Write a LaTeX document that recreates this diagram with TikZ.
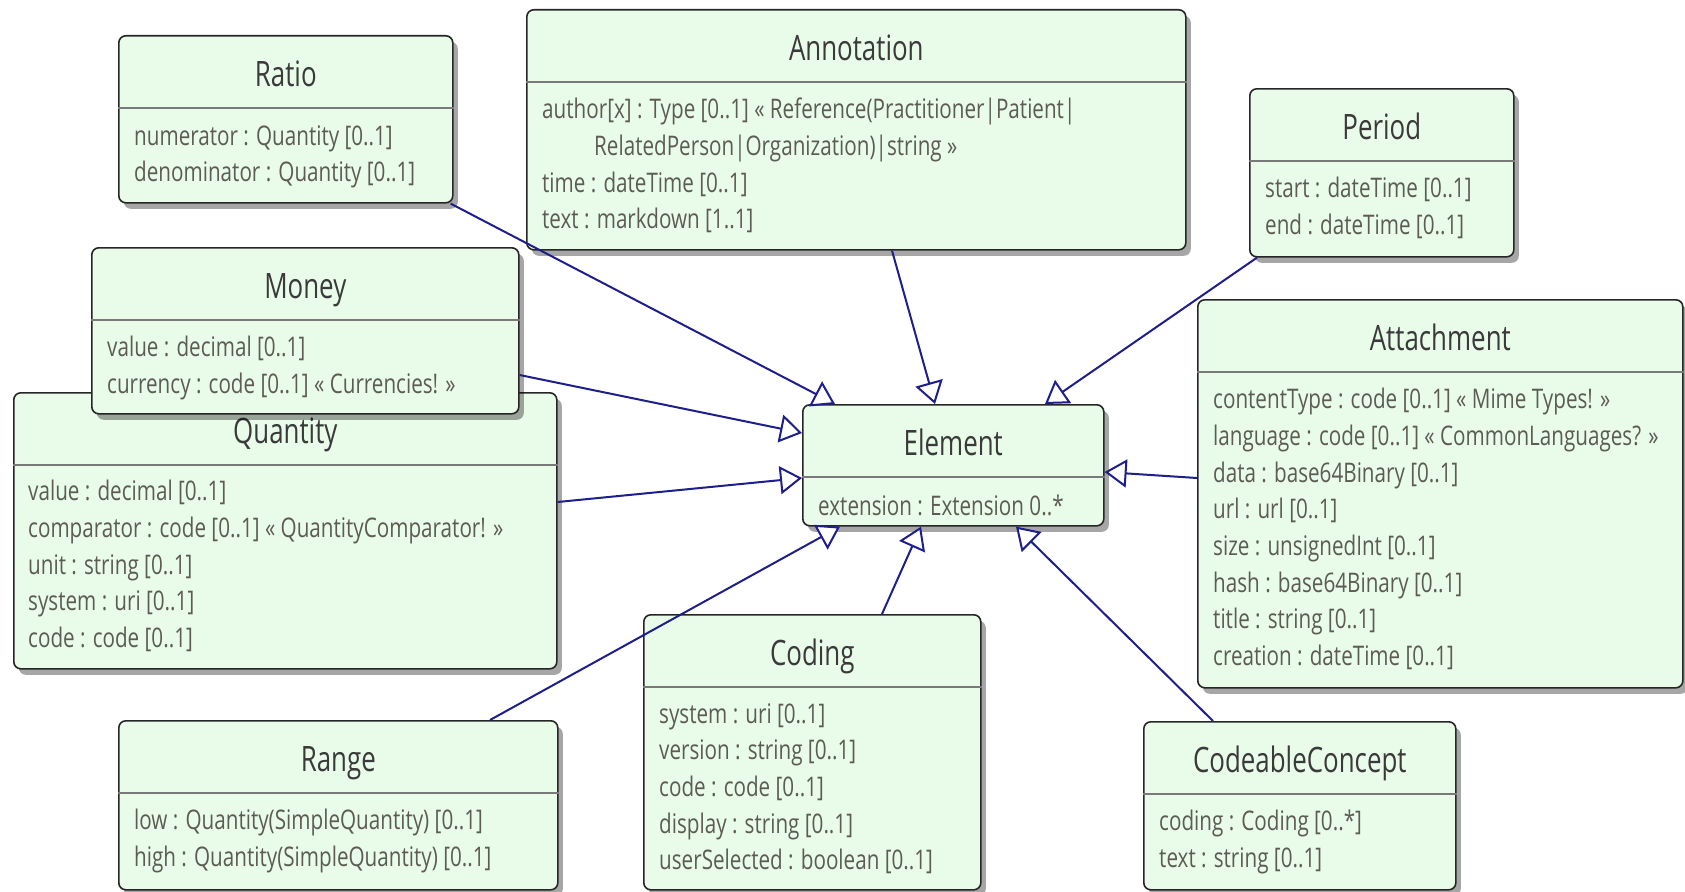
\documentclass[tikz,border=0pt]{standalone}
\usepackage{fontspec}
\setmainfont{Open Sans}[FakeStretch=0.74]
\newfontfamily\attrfamily{Open Sans}[FakeStretch=0.765]
\usetikzlibrary{arrows.meta,calc,shadows}
\definecolor{umlfill}{HTML}{E9FCE9}
\definecolor{umlline}{HTML}{1E1E8C}
\definecolor{umltitle}{HTML}{3A3A3A}
\definecolor{umlattr}{HTML}{5C5C55}
\definecolor{umlsep}{HTML}{7A7A7A}

\begin{document}
\begin{tikzpicture}[x=1pt,y=-1pt,
  classbox/.style={draw=black!85,line width=1.6pt,fill=umlfill,rounded corners=7pt,anchor=north west,inner sep=0pt,
    drop shadow={shadow xshift=5pt,shadow yshift=-6pt,opacity=0.35,fill=black}},
  sepline/.style={umlsep,line width=1.6pt},
  classtitle/.style={font=\fontsize{35}{40}\selectfont,text=umltitle,anchor=base,inner sep=0pt},
  attrs/.style={font=\attrfamily\fontsize{27}{36.7}\selectfont,text=umlattr,anchor=north west,align=left,inner sep=0pt,execute at begin node=\strut},
  inherit/.style={umlline,line width=2pt,-{Triangle[length=22pt,width=28pt,fill=white]}}]
  \fill[white] (0,0) rectangle (1685,891);
  \useasboundingbox (0,0) rectangle (1685,891);

  % Ratio
  \node[classbox,minimum width=334pt,minimum height=167pt] (ratio) at (118,35) {};
  \draw[sepline] ($(ratio.north west)+(0,73)$) -- ($(ratio.north east)+(0,73)$);
  \node[classtitle] (ratioT) at ($(ratio.north)+(0,51)$) {Ratio};
  \node[attrs] (ratioA) at ($(ratio.north west)+(16,90)$) {numerator : Quantity [0..1]\\denominator : Quantity [0..1]};

  % Annotation
  \node[classbox,minimum width=659pt,minimum height=240pt] (annotation) at (526,9) {};
  \draw[sepline] ($(annotation.north west)+(0,73)$) -- ($(annotation.north east)+(0,73)$);
  \node[classtitle] (annotationT) at ($(annotation.north)+(0,51)$) {Annotation};
  \node[attrs] (annotationA) at ($(annotation.north west)+(16,89)$) {author[x] : Type [0..1] « Reference(Practitioner|Patient|\\\hspace*{52pt}RelatedPerson|Organization)|string »\\time : dateTime [0..1]\\text : markdown [1..1]};

  % Period
  \node[classbox,minimum width=264pt,minimum height=168pt] (period) at (1249,88) {};
  \draw[sepline] ($(period.north west)+(0,73)$) -- ($(period.north east)+(0,73)$);
  \node[classtitle] (periodT) at ($(period.north)+(0,51)$) {Period};
  \node[attrs] (periodA) at ($(period.north west)+(16,89)$) {start : dateTime [0..1]\\end : dateTime [0..1]};

  % Attachment
  \node[classbox,minimum width=485pt,minimum height=388pt] (attachment) at (1197,299) {};
  \draw[sepline] ($(attachment.north west)+(0,73)$) -- ($(attachment.north east)+(0,73)$);
  \node[classtitle] (attachmentT) at ($(attachment.north)+(0,51)$) {Attachment};
  \node[attrs] (attachmentA) at ($(attachment.north west)+(16,89)$) {contentType : code [0..1] « Mime Types! »\\language : code [0..1] « CommonLanguages? »\\data : base64Binary [0..1]\\url : url [0..1]\\size : unsignedInt [0..1]\\hash : base64Binary [0..1]\\title : string [0..1]\\creation : dateTime [0..1]};

  % Element
  \node[classbox,minimum width=301pt,minimum height=121pt] (element) at (802,404) {};
  \draw[sepline] ($(element.north west)+(0,73)$) -- ($(element.north east)+(0,73)$);
  \node[classtitle] (elementT) at ($(element.north)+(0,51)$) {Element};
  \node[attrs] (elementA) at ($(element.north west)+(16,86)$) {extension : Extension 0..*};

  % Quantity
  \node[classbox,minimum width=543pt,minimum height=276pt] (quantity) at (13,392) {};
  \draw[sepline] ($(quantity.north west)+(0,73)$) -- ($(quantity.north east)+(0,73)$);
  \node[classtitle] (quantityT) at ($(quantity.north)+(0,51)$) {Quantity};
  \node[attrs] (quantityA) at ($(quantity.north west)+(15,88)$) {value : decimal [0..1]\\comparator : code [0..1] « QuantityComparator! »\\unit : string [0..1]\\system : uri [0..1]\\code : code [0..1]};

  % Money
  \node[classbox,minimum width=427pt,minimum height=166pt] (money) at (91,247) {};
  \draw[sepline] ($(money.north west)+(0,73)$) -- ($(money.north east)+(0,73)$);
  \node[classtitle] (moneyT) at ($(money.north)+(0,51)$) {Money};
  \node[attrs] (moneyA) at ($(money.north west)+(16,89)$) {value : decimal [0..1]\\currency : code [0..1] « Currencies! »};

  % Range
  \node[classbox,minimum width=439pt,minimum height=169pt] (range) at (118,720) {};
  \draw[sepline] ($(range.north west)+(0,73)$) -- ($(range.north east)+(0,73)$);
  \node[classtitle] (rangeT) at ($(range.north)+(0,51)$) {Range};
  \node[attrs] (rangeA) at ($(range.north west)+(16,89)$) {low : Quantity(SimpleQuantity) [0..1]\\high : Quantity(SimpleQuantity) [0..1]};

  % Coding
  \node[classbox,minimum width=337pt,minimum height=275pt] (coding) at (643,614) {};
  \draw[sepline] ($(coding.north west)+(0,73)$) -- ($(coding.north east)+(0,73)$);
  \node[classtitle] (codingT) at ($(coding.north)+(0,51)$) {Coding};
  \node[attrs] (codingA) at ($(coding.north west)+(16,89)$) {system : uri [0..1]\\version : string [0..1]\\code : code [0..1]\\display : string [0..1]\\userSelected : boolean [0..1]};

  % CodeableConcept
  \node[classbox,minimum width=312pt,minimum height=168pt] (codeable) at (1143,721) {};
  \draw[sepline] ($(codeable.north west)+(0,73)$) -- ($(codeable.north east)+(0,73)$);
  \node[classtitle] (codeableT) at ($(codeable.north)+(0,51)$) {CodeableConcept};
  \node[attrs] (codeableA) at ($(codeable.north west)+(16,89)$) {coding : Coding [0..*]\\text : string [0..1]};

  % Generalisations
  \draw[inherit] ($(ratio.south east)+(-3,0)$) -- ($(element.north west)+(33,0)$);
  \draw[inherit] ($(annotation.south west)+(366,0)$) -- ($(element.north west)+(133,0)$);
  \draw[inherit] ($(period.south west)+(8,0)$) -- ($(element.north west)+(243,0)$);
  \draw[inherit] ($(money.north east)+(0,128)$) -- ($(element.north west)+(0,29)$);
  \draw[inherit] ($(quantity.north east)+(0,110)$) -- ($(element.north west)+(0,74)$);
  \draw[inherit] ($(attachment.north west)+(0,179)$) -- ($(element.north east)+(0,68)$);
  \draw[inherit] ($(range.north west)+(372,0)$) -- ($(element.south west)+(38,0)$);
  \draw[inherit] ($(coding.north west)+(239,0)$) -- ($(element.south west)+(119,0)$);
  \draw[inherit] ($(codeable.north west)+(70,0)$) -- ($(element.south west)+(214,0)$);
\end{tikzpicture}
\end{document}
